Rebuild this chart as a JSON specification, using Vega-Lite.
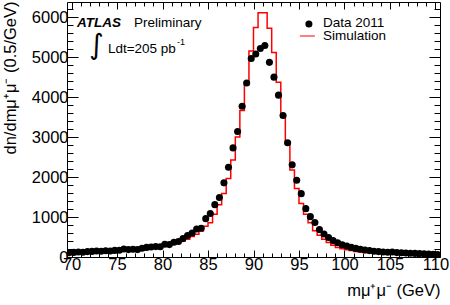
{
  "$schema": "https://vega.github.io/schema/vega-lite/v6.json",
  "autosize": {"type": "none"},
  "padding": {"left": 67, "top": 2, "right": 10, "bottom": 48},
  "width": 373,
  "height": 255,
  "background": "white",
  "config": {
    "view": {"stroke": "black", "strokeWidth": 1},
    "font": "Liberation Sans",
    "axis": {
      "grid": false,
      "domainColor": "black",
      "tickColor": "black",
      "labelColor": "black",
      "titleColor": "black",
      "labelFont": "Liberation Sans",
      "titleFont": "Liberation Sans",
      "labelFontSize": 16.5,
      "titleFontSize": 16.5,
      "titleFontWeight": "normal",
      "labelOverlap": false,
      "labelFlush": false
    }
  },
  "datasets": {
    "pts": [
      {"m": 69.75, "n": 110}, {"m": 70.25, "n": 115}, {"m": 70.75, "n": 125}, {"m": 71.25, "n": 120},
      {"m": 71.75, "n": 135}, {"m": 72.25, "n": 140}, {"m": 72.75, "n": 150}, {"m": 73.25, "n": 145},
      {"m": 73.75, "n": 155}, {"m": 74.25, "n": 150}, {"m": 74.75, "n": 165}, {"m": 75.25, "n": 170},
      {"m": 75.75, "n": 200}, {"m": 76.25, "n": 185}, {"m": 76.75, "n": 195}, {"m": 77.25, "n": 185},
      {"m": 77.75, "n": 220}, {"m": 78.25, "n": 240}, {"m": 78.75, "n": 250}, {"m": 79.25, "n": 260},
      {"m": 79.75, "n": 255}, {"m": 80.25, "n": 320}, {"m": 80.75, "n": 310}, {"m": 81.25, "n": 370},
      {"m": 81.75, "n": 390}, {"m": 82.25, "n": 460}, {"m": 82.75, "n": 540}, {"m": 83.25, "n": 600},
      {"m": 83.75, "n": 700}, {"m": 84.25, "n": 720}, {"m": 84.75, "n": 960}, {"m": 85.25, "n": 1090},
      {"m": 85.75, "n": 1310}, {"m": 86.25, "n": 1490}, {"m": 86.75, "n": 1855}, {"m": 87.25, "n": 2245},
      {"m": 87.75, "n": 2730}, {"m": 88.25, "n": 3140}, {"m": 88.75, "n": 3770}, {"m": 89.25, "n": 4355},
      {"m": 89.75, "n": 4965}, {"m": 90.25, "n": 5080}, {"m": 90.75, "n": 5215}, {"m": 91.25, "n": 5290},
      {"m": 91.75, "n": 4870}, {"m": 92.25, "n": 4500}, {"m": 92.75, "n": 4050}, {"m": 93.25, "n": 3540},
      {"m": 93.75, "n": 2860}, {"m": 94.25, "n": 2305}, {"m": 94.75, "n": 1920}, {"m": 95.25, "n": 1585},
      {"m": 95.75, "n": 1210}, {"m": 96.25, "n": 1010}, {"m": 96.75, "n": 865}, {"m": 97.25, "n": 685},
      {"m": 97.75, "n": 575}, {"m": 98.25, "n": 490}, {"m": 98.75, "n": 410}, {"m": 99.25, "n": 355},
      {"m": 99.75, "n": 305}, {"m": 100.25, "n": 275}, {"m": 100.75, "n": 240}, {"m": 101.25, "n": 215},
      {"m": 101.75, "n": 195}, {"m": 102.25, "n": 175}, {"m": 102.75, "n": 160}, {"m": 103.25, "n": 145},
      {"m": 103.75, "n": 135}, {"m": 104.25, "n": 125}, {"m": 104.75, "n": 120}, {"m": 105.25, "n": 125},
      {"m": 105.75, "n": 110}, {"m": 106.25, "n": 105}, {"m": 106.75, "n": 100}, {"m": 107.25, "n": 95},
      {"m": 107.75, "n": 90}, {"m": 108.25, "n": 85}, {"m": 108.75, "n": 80}, {"m": 109.25, "n": 75},
      {"m": 109.75, "n": 65}, {"m": 110.25, "n": 60}
    ],
    "sim": [
      {"lo": 69.5, "n": 100}, {"lo": 70, "n": 105}, {"lo": 70.5, "n": 110}, {"lo": 71, "n": 115},
      {"lo": 71.5, "n": 120}, {"lo": 72, "n": 125}, {"lo": 72.5, "n": 130}, {"lo": 73, "n": 135},
      {"lo": 73.5, "n": 140}, {"lo": 74, "n": 145}, {"lo": 74.5, "n": 150}, {"lo": 75, "n": 160},
      {"lo": 75.5, "n": 165}, {"lo": 76, "n": 175}, {"lo": 76.5, "n": 180}, {"lo": 77, "n": 190},
      {"lo": 77.5, "n": 200}, {"lo": 78, "n": 215}, {"lo": 78.5, "n": 230}, {"lo": 79, "n": 245},
      {"lo": 79.5, "n": 260}, {"lo": 80, "n": 280}, {"lo": 80.5, "n": 300}, {"lo": 81, "n": 330},
      {"lo": 81.5, "n": 360}, {"lo": 82, "n": 400}, {"lo": 82.5, "n": 445}, {"lo": 83, "n": 510},
      {"lo": 83.5, "n": 570}, {"lo": 84, "n": 650}, {"lo": 84.5, "n": 770}, {"lo": 85, "n": 860},
      {"lo": 85.5, "n": 1070}, {"lo": 86, "n": 1305}, {"lo": 86.5, "n": 1590}, {"lo": 87, "n": 1965},
      {"lo": 87.5, "n": 2430}, {"lo": 88, "n": 3000}, {"lo": 88.5, "n": 3665}, {"lo": 89, "n": 4375},
      {"lo": 89.5, "n": 5155}, {"lo": 90, "n": 5740}, {"lo": 90.5, "n": 6110}, {"lo": 91, "n": 6110},
      {"lo": 91.5, "n": 5725}, {"lo": 92, "n": 5115}, {"lo": 92.5, "n": 4375}, {"lo": 93, "n": 3500},
      {"lo": 93.5, "n": 2830}, {"lo": 94, "n": 2175}, {"lo": 94.5, "n": 1715}, {"lo": 95, "n": 1340},
      {"lo": 95.5, "n": 1070}, {"lo": 96, "n": 860}, {"lo": 96.5, "n": 655}, {"lo": 97, "n": 545},
      {"lo": 97.5, "n": 445}, {"lo": 98, "n": 360}, {"lo": 98.5, "n": 295}, {"lo": 99, "n": 240},
      {"lo": 99.5, "n": 205}, {"lo": 100, "n": 180}, {"lo": 100.5, "n": 160}, {"lo": 101, "n": 140},
      {"lo": 101.5, "n": 125}, {"lo": 102, "n": 115}, {"lo": 102.5, "n": 105}, {"lo": 103, "n": 95},
      {"lo": 103.5, "n": 90}, {"lo": 104, "n": 85}, {"lo": 104.5, "n": 80}, {"lo": 105, "n": 75},
      {"lo": 105.5, "n": 70}, {"lo": 106, "n": 65}, {"lo": 106.5, "n": 60}, {"lo": 107, "n": 58},
      {"lo": 107.5, "n": 55}, {"lo": 108, "n": 52}, {"lo": 108.5, "n": 50}, {"lo": 109, "n": 48},
      {"lo": 109.5, "n": 45}, {"lo": 110, "n": 42}, {"lo": 110.5, "n": 42}
    ],
    "one": [{}]
  },
  "resolve": {"axis": {"x": "independent", "y": "independent"}},
  "layer": [
    {
      "data": {"name": "sim"},
      "mark": {"type": "line", "interpolate": "step-after", "color": "#ff0000", "strokeWidth": 1.5, "clip": true},
      "encoding": {
        "x": {
          "field": "lo", "type": "quantitative",
          "scale": {"domain": [69.5, 110.5], "nice": false, "zero": false},
          "axis": {
            "orient": "bottom",
            "values": [70,71,72,73,74,75,76,77,78,79,80,81,82,83,84,85,86,87,88,89,90,91,92,93,94,95,96,97,98,99,100,101,102,103,104,105,106,107,108,109,110],
            "labelExpr": "datum.value % 5 === 0 ? datum.label : ''",
            "tickSize": {"condition": {"test": "datum.value % 5 === 0", "value": -7}, "value": -4},
            "labelPadding": 6,
            "domain": false,
            "title": "mμ⁺μ⁻ (GeV)",
            "titleAnchor": "end",
            "titleAlign": "right",
            "titleBaseline": "alphabetic",
            "titleX": 373,
            "titleY": 38
          }
        },
        "y": {
          "field": "n", "type": "quantitative",
          "scale": {"domain": [0, 6380], "nice": false},
          "axis": {
            "orient": "left",
            "values": [0,200,400,600,800,1000,1200,1400,1600,1800,2000,2200,2400,2600,2800,3000,3200,3400,3600,3800,4000,4200,4400,4600,4800,5000,5200,5400,5600,5800,6000,6200],
            "labelExpr": "datum.value % 1000 === 0 ? datum.label : ''",
            "format": "d",
            "tickSize": {"condition": {"test": "datum.value % 1000 === 0", "value": -11}, "value": -6},
            "labelPadding": 10,
            "domain": false,
            "title": "dn/dmμ⁺μ⁻ (0.5/GeV)",
            "titleAngle": -90,
            "titleAlign": "right",
            "titleBaseline": "top",
            "titleX": -65,
            "titleY": -1
          }
        }
      }
    },
    {
      "data": {"name": "pts"},
      "mark": {"type": "point", "filled": true, "color": "black", "size": 50, "opacity": 1, "clip": true},
      "encoding": {
        "x": {
          "field": "m", "type": "quantitative",
          "axis": {
            "orient": "top",
            "values": [70,71,72,73,74,75,76,77,78,79,80,81,82,83,84,85,86,87,88,89,90,91,92,93,94,95,96,97,98,99,100,101,102,103,104,105,106,107,108,109,110],
            "labels": false,
            "domain": false,
            "tickSize": {"condition": {"test": "datum.value % 5 === 0", "value": -7}, "value": -4},
            "title": null
          }
        },
        "y": {
          "field": "n", "type": "quantitative",
          "axis": {
            "orient": "right",
            "values": [0,200,400,600,800,1000,1200,1400,1600,1800,2000,2200,2400,2600,2800,3000,3200,3400,3600,3800,4000,4200,4400,4600,4800,5000,5200,5400,5600,5800,6000,6200],
            "labels": false,
            "domain": false,
            "tickSize": {"condition": {"test": "datum.value % 1000 === 0", "value": -11}, "value": -6},
            "title": null
          }
        }
      }
    },
    {
      "data": {"name": "one"},
      "mark": {"type": "text", "text": "ATLAS", "font": "Liberation Sans", "fontSize": 13.5, "fontWeight": "bold", "fontStyle": "italic", "align": "left", "baseline": "alphabetic", "color": "black"},
      "encoding": {"x": {"datum": 70.6, "type": "quantitative", "axis": null}, "y": {"datum": 5754, "type": "quantitative", "axis": null}}
    },
    {
      "data": {"name": "one"},
      "mark": {"type": "text", "text": "Preliminary", "font": "Liberation Sans", "fontSize": 13.5, "align": "left", "baseline": "alphabetic", "color": "black"},
      "encoding": {"x": {"datum": 76.86, "type": "quantitative", "axis": null}, "y": {"datum": 5754, "type": "quantitative", "axis": null}}
    },
    {
      "data": {"name": "one"},
      "mark": {"type": "text", "text": "∫", "font": "DejaVu Sans", "fontSize": 28, "align": "center", "baseline": "middle", "color": "black"},
      "encoding": {"x": {"datum": 72.74, "type": "quantitative", "axis": null}, "y": {"datum": 5279, "type": "quantitative", "axis": null}}
    },
    {
      "data": {"name": "one"},
      "mark": {"type": "text", "text": "Ldt=205 pb", "font": "Liberation Sans", "fontSize": 13.5, "align": "left", "baseline": "alphabetic", "color": "black"},
      "encoding": {"x": {"datum": 74.0, "type": "quantitative", "axis": null}, "y": {"datum": 5104, "type": "quantitative", "axis": null}}
    },
    {
      "data": {"name": "one"},
      "mark": {"type": "text", "text": "-1", "font": "Liberation Sans", "fontSize": 9, "align": "left", "baseline": "alphabetic", "color": "black"},
      "encoding": {"x": {"datum": 81.59, "type": "quantitative", "axis": null}, "y": {"datum": 5304, "type": "quantitative", "axis": null}}
    },
    {
      "data": {"name": "one"},
      "mark": {"type": "point", "filled": true, "color": "black", "size": 50, "opacity": 1},
      "encoding": {"x": {"datum": 96.09, "type": "quantitative", "axis": null}, "y": {"datum": 5829, "type": "quantitative", "axis": null}}
    },
    {
      "data": {"name": "one"},
      "mark": {"type": "text", "text": "Data 2011", "font": "Liberation Sans", "fontSize": 13.5, "align": "left", "baseline": "alphabetic", "color": "black"},
      "encoding": {"x": {"datum": 97.63, "type": "quantitative", "axis": null}, "y": {"datum": 5754, "type": "quantitative", "axis": null}}
    },
    {
      "data": {"name": "one"},
      "mark": {"type": "rule", "color": "#ff0000", "strokeWidth": 1},
      "encoding": {"x": {"datum": 95.1, "type": "quantitative", "axis": null}, "x2": {"datum": 96.75}, "y": {"datum": 5529, "type": "quantitative", "axis": null}}
    },
    {
      "data": {"name": "one"},
      "mark": {"type": "text", "text": "Simulation", "font": "Liberation Sans", "fontSize": 13.5, "align": "left", "baseline": "alphabetic", "color": "black"},
      "encoding": {"x": {"datum": 97.63, "type": "quantitative", "axis": null}, "y": {"datum": 5429, "type": "quantitative", "axis": null}}
    }
  ]
}
